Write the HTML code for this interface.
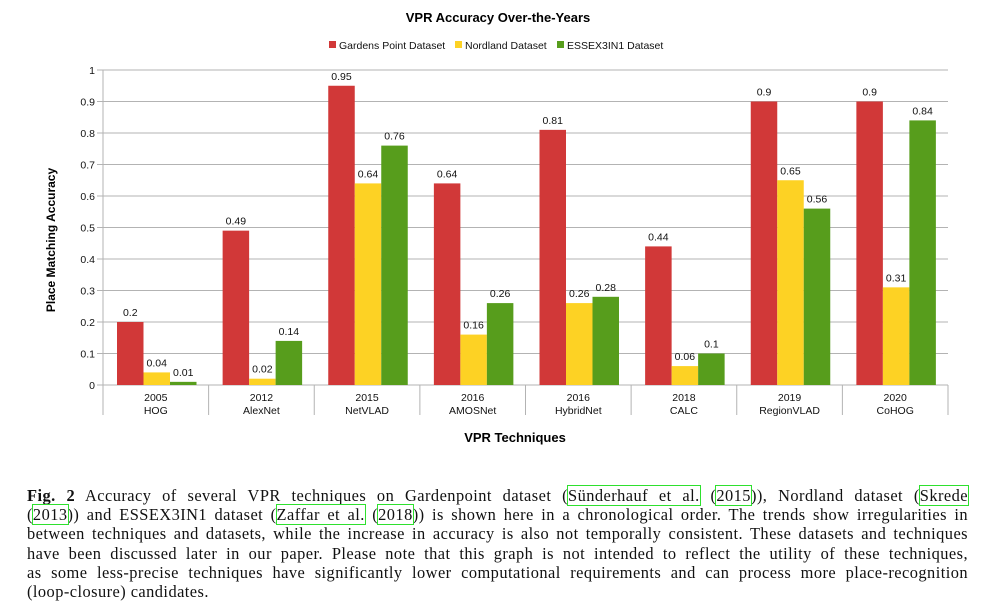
<!DOCTYPE html>
<html><head><meta charset="utf-8">
<style>
body{margin:0;background:#fff;width:996px;height:604px;overflow:hidden;position:relative;font-family:"Liberation Sans",sans-serif}
svg{position:absolute;left:0;top:0}
#cap{position:absolute;left:27px;top:486px;width:941px;font-family:"Liberation Serif",serif;font-size:16.4px;letter-spacing:0.45px;color:#111;line-height:19.2px}
#cap div{text-align:justify;text-align-last:justify;white-space:nowrap;height:19.2px}
#cap div.last{text-align-last:left}
.c{outline:1.2px solid #2ee02e;outline-offset:0px}
</style></head><body>
<svg id="chart" width="996" height="470" xmlns="http://www.w3.org/2000/svg" font-family="Liberation Sans, sans-serif"></svg>
<div id="cap">
<div><b>Fig. 2</b> Accuracy of several VPR techniques on Gardenpoint dataset (<span class="c">Sünderhauf et al.</span> (<span class="c">2015</span>)), Nordland dataset (<span class="c">Skrede</span></div>
<div>(<span class="c">2013</span>)) and ESSEX3IN1 dataset (<span class="c">Zaffar et al.</span> (<span class="c">2018</span>)) is shown here in a chronological order. The trends show irregularities in</div>
<div>between techniques and datasets, while the increase in accuracy is also not temporally consistent. These datasets and techniques</div>
<div>have been discussed later in our paper. Please note that this graph is not intended to reflect the utility of these techniques,</div>
<div>as some less-precise techniques have significantly lower computational requirements and can process more place-recognition</div>
<div class="last">(loop-closure) candidates.</div>
</div>
<script>
const years=["2005","2012","2015","2016","2016","2018","2019","2020"];
const techniques=["HOG","AlexNet","NetVLAD","AMOSNet","HybridNet","CALC","RegionVLAD","CoHOG"];
const gardens=[0.2,0.49,0.95,0.64,0.81,0.44,0.9,0.9];
const nordland=[0.04,0.02,0.64,0.16,0.26,0.06,0.65,0.31];
const essex=[0.01,0.14,0.76,0.26,0.28,0.1,0.56,0.84];
const seriesNames=["Gardens Point Dataset","Nordland Dataset","ESSEX3IN1 Dataset"];
const yTicks=[0,0.1,0.2,0.3,0.4,0.5,0.6,0.7,0.8,0.9,1];

const svg=document.getElementById('chart');
const NS="http://www.w3.org/2000/svg";
const X0=103,X1=948,Y0=385,Y1=70;
const colors=["#d13838","#fdd224","#579d1c"];
const series=[gardens,nordland,essex];
const cw=(X1-X0)/years.length;
function y(v){return Y0-(Y0-Y1)*v;}
function x(i){return X0+i*cw;}
function mk(tag,attrs,parent){const e=document.createElementNS(NS,tag);for(const k in attrs)e.setAttribute(k,attrs[k]);(parent||svg).appendChild(e);return e;}
function txt(s,attrs){const e=mk('text',attrs);e.textContent=s;return e;}

let t=txt("VPR Accuracy Over-the-Years",{x:498,y:22,'text-anchor':'middle','font-size':13,'font-weight':'bold'});



const lx=[329,455,557];
seriesNames.forEach((n,i)=>{
  const g=mk('g',{});
  
  
  mk('rect',{x:lx[i],y:41,width:7,height:7,fill:colors[i]},g);
  const tt=mk('text',{x:lx[i]+10,y:49,'font-size':10.5,fill:'#111'},g);tt.textContent=n;
});

yTicks.forEach(v=>{
  const l=mk('line',{x1:X0-6,x2:X1,y1:y(v),y2:y(v),stroke:'#b3b3b3','stroke-width':1});
  
  
  const tl=txt(String(v),{x:95,y:y(v)+4,'text-anchor':'end','font-size':10.5,fill:'#111'});
  
  
});
mk('line',{x1:X0,x2:X0,y1:Y1,y2:415,stroke:'#b3b3b3'});
for(let i=1;i<=years.length;i++)mk('line',{x1:x(i),x2:x(i),y1:Y0,y2:415,stroke:'#b3b3b3'});

const bw=26.5,off=14;
years.forEach((yr,i)=>{
  series.forEach((s,j)=>{
    const bx=x(i)+off+j*bw;
    const r=mk('rect',{x:bx,y:y(s[i]),width:bw,height:Y0-y(s[i]),fill:colors[j]});
    
    
    const vl=txt(String(s[i]),{x:bx+bw/2,y:y(s[i])-6,'text-anchor':'middle','font-size':10.5,fill:'#111'});
    
    
  });
  const a=txt(yr,{x:x(i)+cw/2,y:401,'text-anchor':'middle','font-size':10.5,fill:'#111'});
  
  
  const b=txt(techniques[i],{x:x(i)+cw/2,y:414,'text-anchor':'middle','font-size':10.5,fill:'#111'});
  
  
});

const xt=txt("VPR Techniques",{x:515,y:442,'text-anchor':'middle','font-size':13,'font-weight':'bold'});


const yt=txt("Place Matching Accuracy",{x:0,y:0,'text-anchor':'middle','font-size':12,'font-weight':'bold',transform:'translate(55,240) rotate(-90)'});


</script>
</body></html>
